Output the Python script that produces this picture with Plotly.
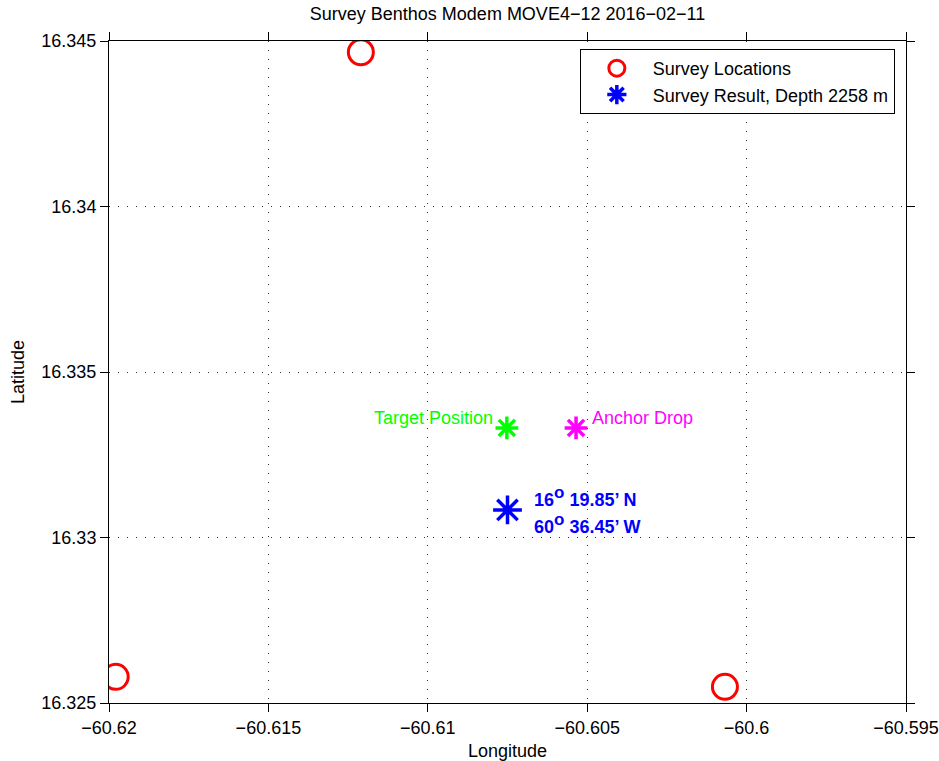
import plotly.graph_objects as go

# Survey waypoints (longitude, latitude)
survey_lon = [-60.6121, -60.61979, -60.60068]
survey_lat = [16.34466, 16.32579, 16.32549]

# Survey result: 16° 19.85' N, 60° 36.45' W
result_lon = [-(60 + 36.45 / 60)]
result_lat = [16 + 19.85 / 60]

target_lon = [-60.60752]
target_lat = [16.33331]

anchor_lon = [-60.60535]
anchor_lat = [16.33331]

x_ticks = [-60.62, -60.615, -60.61, -60.605, -60.6, -60.595]
y_ticks = [16.325, 16.33, 16.335, 16.34, 16.345]

FONT = "Liberation Sans, Arial, Helvetica, sans-serif"
FS = 18

fig = go.Figure()

fig.add_trace(go.Scatter(
    x=survey_lon, y=survey_lat, mode="markers", name="Survey Locations",
    marker=dict(symbol="circle-open", size=25, color="#ff0000", line=dict(width=3, color="#ff0000")),
))
fig.add_trace(go.Scatter(
    x=result_lon, y=result_lat, mode="markers", name="Survey Result, Depth 2258 m",
    marker=dict(symbol="asterisk-open", size=24, color="#0000ff", line=dict(width=3.5, color="#0000ff")),
))
fig.add_trace(go.Scatter(
    x=target_lon, y=target_lat, mode="markers", showlegend=False,
    marker=dict(symbol="asterisk-open", size=19, color="#00ff00", line=dict(width=3.5, color="#00ff00")),
))
fig.add_trace(go.Scatter(
    x=anchor_lon, y=anchor_lat, mode="markers", showlegend=False,
    marker=dict(symbol="asterisk-open", size=19, color="#ff00ff", line=dict(width=3.5, color="#ff00ff")),
))

fig.add_annotation(x=target_lon[0], y=target_lat[0], text="Target Position", showarrow=False,
                   xanchor="right", xshift=-12, yshift=10, font=dict(color="#00ff00", size=FS, family=FONT))
fig.add_annotation(x=anchor_lon[0], y=anchor_lat[0], text="Anchor Drop", showarrow=False,
                   xanchor="left", xshift=14, yshift=10, font=dict(color="#ff00ff", size=FS, family=FONT))

# Coordinates of the survey result, one annotation per line
deg = "<sup><span style='font-size:17px'>o</span></sup>"
result_lines = [f"16{deg} 19.85\u2019 N", f"60{deg} 36.45\u2019 W"]
for line, shift in zip(result_lines, [13, -14]):
    fig.add_annotation(x=result_lon[0], y=result_lat[0], text=line,
                       showarrow=False, xanchor="left", align="left", xshift=24, yshift=shift,
                       font=dict(color="#0000ff", size=FS, family=FONT, weight="bold"))

axis_common = dict(
    showline=True, linecolor="black", linewidth=1, mirror="ticks",
    ticks="outside", ticklen=8, tickcolor="black",
    showgrid=True, gridcolor="#333333", griddash="1px,8px", gridwidth=1,
    zeroline=False, automargin=False,
    tickfont=dict(size=FS, color="black", family=FONT),
)

fig.update_xaxes(range=[-60.62, -60.595], tickvals=x_ticks,
                 title=dict(text="Longitude", font=dict(size=FS, color="black", family=FONT), standoff=8),
                 **axis_common)
fig.update_yaxes(range=[16.325, 16.345], tickvals=y_ticks,
                 title=dict(text="Latitude", font=dict(size=FS, color="black", family=FONT), standoff=12),
                 **axis_common)

fig.update_layout(
    width=939, height=761,
    margin=dict(l=109, r=33, t=41, b=58),
    paper_bgcolor="white", plot_bgcolor="white",
    title=dict(text="Survey Benthos Modem MOVE4\u221212 2016\u221202\u221211",
               x=0.5, xref="paper", y=0.99, yanchor="top",
               font=dict(size=FS, color="black", family=FONT)),
    legend=dict(x=0.986, y=0.988, xanchor="right", yanchor="top",
                bgcolor="white", bordercolor="black", borderwidth=1, itemwidth=62,
                font=dict(size=FS, color="black", family=FONT), tracegroupgap=0),
    showlegend=True,
)

fig.write_html("out.html")
